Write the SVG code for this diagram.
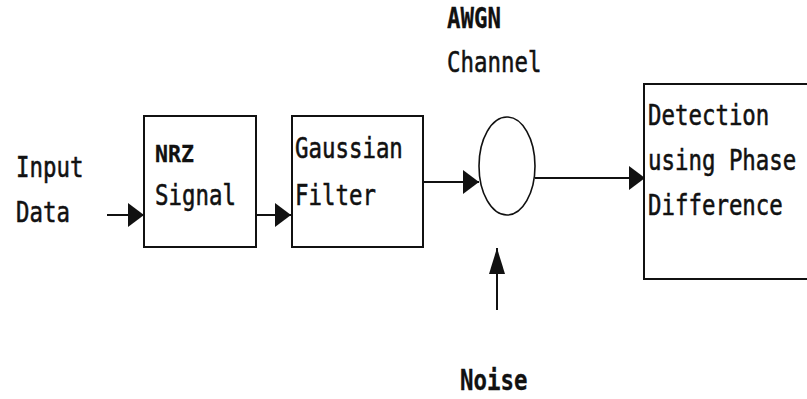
<svg xmlns="http://www.w3.org/2000/svg" width="807" height="399" viewBox="0 0 807 399">
<style>
.box{fill:#fff;stroke:#111;stroke-width:2}
.conn{stroke:#111;stroke-width:2;fill:none}
.t{font-family:"DejaVu Sans Mono","Liberation Mono",monospace;font-size:22.4px;fill:#111;stroke:#111;stroke-width:0.45}
.b{font-weight:bold;stroke-width:0.25}
</style>
<defs>
<marker id="ah" markerUnits="userSpaceOnUse" markerWidth="18" markerHeight="26" refX="16" refY="12" orient="auto">
<path d="M0,0 L16,12 L0,24 Z" fill="#111"/>
</marker>
<marker id="ahv" markerUnits="userSpaceOnUse" markerWidth="28" markerHeight="18" refX="26" refY="8" orient="auto">
<path d="M0,0 L26,8 L0,16 Z" fill="#111"/>
</marker>
</defs>
<rect width="807" height="399" fill="#fff"/>
<g id="input-label">
<text class="t" transform="translate(16,177) scale(1,1.26)">Input</text>
<text class="t" transform="translate(16,222) scale(1,1.26)">Data</text>
</g>
<g id="nrz">
<rect class="box" x="144" y="116" width="112" height="131"/>
<text class="t b" transform="translate(155,162) scale(1,1.1)" style="font-size:21.6px">NRZ</text>
<text class="t" transform="translate(155,205) scale(1,1.26)">Signal</text>
</g>
<g id="gaussian">
<rect class="box" x="292" y="116" width="131" height="131"/>
<text class="t" transform="translate(295,158) scale(1,1.26)">Gaussian</text>
<text class="t" transform="translate(295,205) scale(1,1.26)">Filter</text>
</g>
<g id="awgn">
<ellipse cx="507" cy="166" rx="28" ry="49" fill="#fff" stroke="#111" stroke-width="1.6"/>
<text class="t b" transform="translate(447,28) scale(1,1.26)">AWGN</text>
<text class="t" transform="translate(447,72) scale(1,1.26)">Channel</text>
</g>
<g id="detection">
<path class="box" d="M807,84 H644 V279 H807"/>
<text class="t" transform="translate(648,125) scale(1,1.26)">Detection</text>
<text class="t" transform="translate(648,170) scale(1,1.26)">using Phase</text>
<text class="t" transform="translate(648,215) scale(1,1.26)">Difference</text>
</g>
<g id="noise">
<text class="t b" transform="translate(460,390) scale(1,1.26)">Noise</text>
</g>
<g id="connectors">
<line class="conn" x1="107" y1="215" x2="144" y2="215" marker-end="url(#ah)"/>
<line class="conn" x1="256" y1="215" x2="291" y2="215" marker-end="url(#ah)"/>
<line class="conn" x1="423" y1="182" x2="479" y2="182" marker-end="url(#ah)"/>
<line class="conn" x1="535" y1="178" x2="645" y2="178" marker-end="url(#ah)"/>
<line class="conn" x1="497" y1="310" x2="497" y2="248" marker-end="url(#ahv)"/>
</g>
</svg>
